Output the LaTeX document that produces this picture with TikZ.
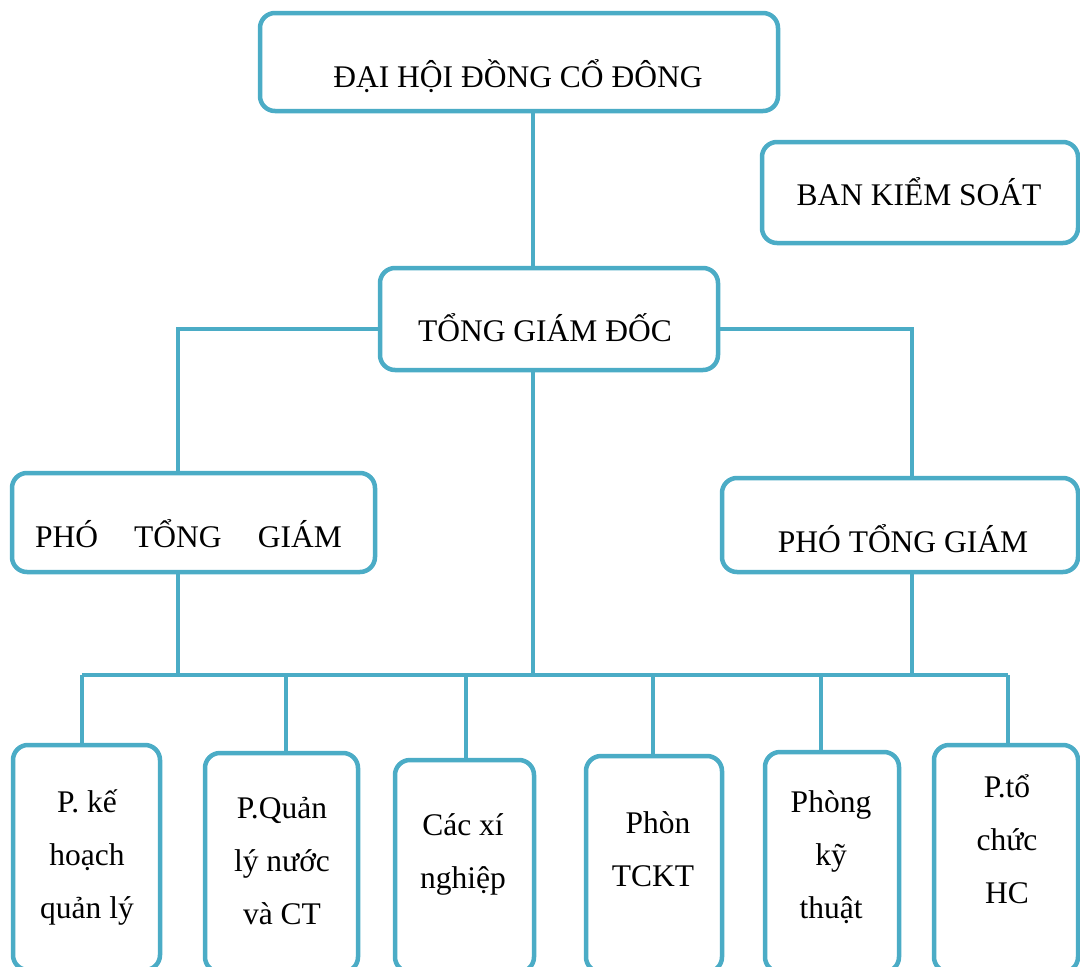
\documentclass[tikz,border=0pt]{standalone}
\usepackage{fontspec}
\setmainfont{Liberation Serif}
\definecolor{lineblue}{RGB}{75,172,198}
\begin{document}
\begin{tikzpicture}[x=1pt,y=-1pt,
  box/.style={draw=lineblue, line width=4.5pt, rounded corners=15pt, fill=white, inner sep=0pt},
  conn/.style={draw=lineblue, line width=4.5pt},
  lbl/.style={font=\fontsize{31.5}{53}\selectfont, align=center, anchor=base, inner sep=0pt}]
\useasboundingbox (0,0) rectangle (1080,967);
% boxes
\node[box, minimum width=518pt, minimum height=98pt] (A) at (519,62) {};
\node[box, minimum width=316pt, minimum height=101pt] (B) at (920,192.5) {};
\node[box, minimum width=338pt, minimum height=102pt] (C) at (549,319) {};
\node[box, minimum width=363pt, minimum height=99pt] (D) at (193.5,522.5) {};
\node[box, minimum width=356pt, minimum height=94pt] (E) at (900,525) {};
\node[box, minimum width=147pt, minimum height=225pt] (F1) at (86.5,857.5) {};
\node[box, minimum width=153pt, minimum height=219pt] (F2) at (281.5,862.5) {};
\node[box, minimum width=139pt, minimum height=212pt] (F3) at (464.5,866) {};
\node[box, minimum width=136pt, minimum height=216pt] (F4) at (654,864) {};
\node[box, minimum width=134pt, minimum height=220pt] (F5) at (832,862) {};
\node[box, minimum width=144pt, minimum height=227pt] (F6) at (1006,858.5) {};
% texts
\node[lbl] (tA) at (518,87) {ĐẠI HỘI ĐỒNG CỔ ĐÔNG};
\node[lbl] (tB) at (919,205) {BAN KIỂM SOÁT};
\node[lbl] (tC) at (545,341) {TỔNG GIÁM ĐỐC};
\node[lbl] (tD) at (188.5,547) {\makebox[307pt]{PHÓ\hfill TỔNG\hfill GIÁM}};
\node[lbl] (tE) at (903,552) {PHÓ TỔNG GIÁM};
\node[lbl] (t1) at (87,918) {P. kế\\hoạch\\quản lý};
\node[lbl] (t2) at (282,924) {P.Quản\\lý nước\\và CT};
\node[lbl] (t3) at (463,888) {Các xí\\nghiệp};
\node[lbl] (t4) at (653,886) {\hspace*{10pt}Phòn\\TCKT};
\node[lbl] (t5) at (831,918) {Phòng\\kỹ\\thuật};
\node[lbl] (t6) at (1007,903) {P.tổ\\chức\\HC};
% connectors
\coordinate (spine) at (533,675);
\draw[conn] (A.south -| spine) -- (C.north -| spine);
\draw[conn] (C.south -| spine) -- (spine);
\draw[conn] ([yshift=-10pt]C.west) -| ([xshift=-15.5pt]D.north);
\draw[conn] ([yshift=-10pt]C.east) -| ([xshift=12pt]E.north);
\draw[conn] ([xshift=-15.5pt]D.south) -- ([xshift=-15.5pt]D.south |- spine);
\draw[conn] ([xshift=12pt]E.south) -- ([xshift=12pt]E.south |- spine);
\draw[conn] ([xshift=-4.5pt]F1.north |- spine) -- ([xshift=2pt]F6.north |- spine);
\draw[conn] ([xshift=-4.5pt]F1.north |- spine) -- ([xshift=-4.5pt]F1.north);
\draw[conn] ([xshift=4.5pt]F2.north |- spine) -- ([xshift=4.5pt]F2.north);
\draw[conn] ([xshift=1.5pt]F3.north |- spine) -- ([xshift=1.5pt]F3.north);
\draw[conn] ([xshift=-1pt]F4.north |- spine) -- ([xshift=-1pt]F4.north);
\draw[conn] ([xshift=-11pt]F5.north |- spine) -- ([xshift=-11pt]F5.north);
\draw[conn] ([xshift=2pt]F6.north |- spine) -- ([xshift=2pt]F6.north);
\end{tikzpicture}
\end{document}
